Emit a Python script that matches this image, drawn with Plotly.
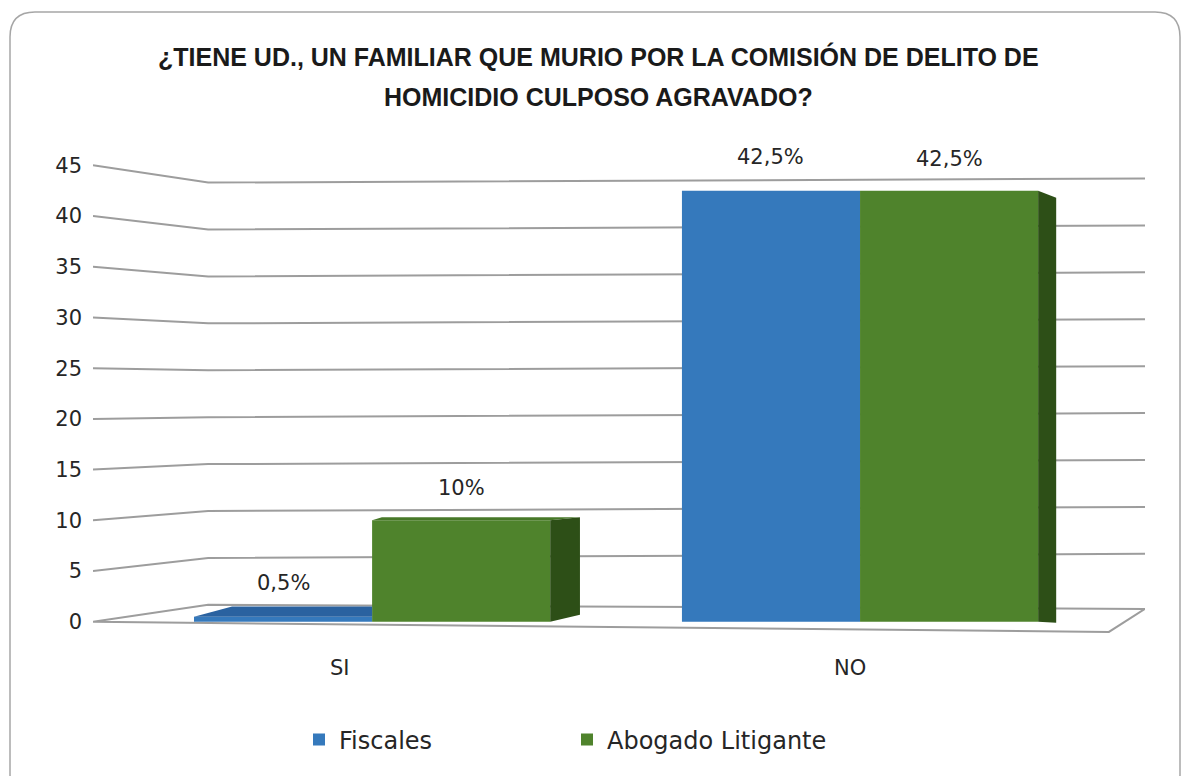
import plotly.graph_objects as go

# ---- data ----
categories = ["SI", "NO"]
fiscales = [0.5, 42.5]
abogado = [10, 42.5]
fiscales_labels = ["0,5%", "42,5%"]
abogado_labels = ["10%", "42,5%"]
series_names = ["Fiscales", "Abogado Litigante"]
y_ticks = [0, 5, 10, 15, 20, 25, 30, 35, 40, 45]
title_lines = ["¿TIENE UD., UN FAMILIAR QUE MURIO POR LA COMISIÓN DE DELITO DE",
               "HOMICIDIO CULPOSO AGRAVADO?"]

# ---- style ----
BLUE = "#3579BC"
DKBLUE = "#2A62A0"
GREEN = "#4F832C"
TOPGREEN = "#477828"
DKGREEN = "#2D4F17"
GRID = "#9d9d9d"
FONT = "DejaVu Sans, sans-serif"
TFONT = "Liberation Sans, Arial, sans-serif"
TXT = "#262626"

OFF = 8  # page offset of the figure inside the browser window
W, H = 1190, 776
# plot area in screen pixels
PL, PR, PT, PB = 93, 1145, 145, 637
L, R, T, B = PL - OFF, W - (PR - OFF), PT - OFF, H - (PB - OFF)
XR = [-0.572, 1.584]
YR = [-1.5, 47]
bar_w = 0.365

xpos = list(range(len(categories)))

def px2x(px):
    return (px - PL) / (PR - PL)

def py2y(py):
    return (PB - py) / (PB - PT)

fig = go.Figure()
fig.add_trace(go.Bar(x=xpos, y=fiscales, name=series_names[0], marker_color=BLUE,
                     marker_line_width=0, offset=-bar_w, width=bar_w))
fig.add_trace(go.Bar(x=xpos, y=abogado, name=series_names[1], marker_color=GREEN,
                     marker_line_width=0, offset=0, width=bar_w))

shapes = []
# perspective gridlines (back wall)
x_depth = -0.336
def back(v):
    return 1.67 + 0.925 * v
for v in y_ticks:
    if v == 0:
        continue
    shapes.append(dict(type="path", xref="x", yref="y", layer="below",
                       path=f"M {XR[0]},{v} L {x_depth},{back(v)} L {XR[1]},{back(v) + 0.4}",
                       line=dict(color=GRID, width=2)))
# floor
shapes.append(dict(type="path", xref="x", yref="y", layer="below",
                   path=f"M {XR[0]},0 L {x_depth},{back(0)} L {XR[1]},{back(0) - 0.4} L 1.51,-1.0 Z",
                   line=dict(color=GRID, width=2), fillcolor="white"))
# top faces (perspective) of the SI bars
top_dx = [0.078, 0.0]
top_dz = [1.0, 0.0]
for i in range(len(categories)):
    if top_dz[i] <= 0:
        continue
    v = fiscales[i]
    x0, x1 = xpos[i] - bar_w, xpos[i]
    shapes.append(dict(type="path", xref="x", yref="y", layer="above",
                       path=f"M {x0},{v} L {x0 + top_dx[i]},{v + top_dz[i]} L {x1},{v + top_dz[i]} L {x1},{v} Z",
                       line=dict(width=0), fillcolor=DKBLUE))
    v = abogado[i]
    x0, x1 = xpos[i], xpos[i] + bar_w
    shapes.append(dict(type="path", xref="x", yref="y", layer="above",
                       path=f"M {x0},{v} L {x0 + 0.02},{v + 0.3} L {x1 + 0.06},{v + 0.3} L {x1},{v} Z",
                       line=dict(width=0), fillcolor=TOPGREEN))
# side faces of the green bars
depth = [0.061, 0.037]
dy_top = [0.3, -0.7]
dy_bot = [0.7, -0.1]
for i, v in enumerate(abogado):
    x0 = xpos[i] + bar_w
    x1 = x0 + depth[i]
    shapes.append(dict(type="path", xref="x", yref="y", layer="above",
                       path=f"M {x0},0 L {x1},{dy_bot[i]} L {x1},{v + dy_top[i]} L {x0},{v} Z",
                       line=dict(width=0), fillcolor=DKGREEN))
# rounded border (screen pixels)
r = 25
x0p, x1p, y0p, y1p = 10, 1180, 12, 800
pts = (f"M {px2x(x0p + r)},{py2y(y0p)} L {px2x(x1p - r)},{py2y(y0p)} "
       f"Q {px2x(x1p)},{py2y(y0p)} {px2x(x1p)},{py2y(y0p + r)} "
       f"L {px2x(x1p)},{py2y(y1p - r)} Q {px2x(x1p)},{py2y(y1p)} {px2x(x1p - r)},{py2y(y1p)} "
       f"L {px2x(x0p + r)},{py2y(y1p)} Q {px2x(x0p)},{py2y(y1p)} {px2x(x0p)},{py2y(y1p - r)} "
       f"L {px2x(x0p)},{py2y(y0p + r)} Q {px2x(x0p)},{py2y(y0p)} {px2x(x0p + r)},{py2y(y0p)} Z")
shapes.append(dict(type="path", xref="paper", yref="paper", layer="below", path=pts,
                   line=dict(color="#a6a6a6", width=1.5)))

annotations = []
for i in range(len(categories)):
    annotations.append(dict(x=xpos[i] - bar_w / 2, y=fiscales[i], xref="x", yref="y",
                            text=fiscales_labels[i], showarrow=False, yanchor="bottom",
                            yshift=20, font=dict(size=21, color=TXT, family=FONT)))
    annotations.append(dict(x=xpos[i] + bar_w / 2, y=abogado[i], xref="x", yref="y",
                            text=abogado_labels[i], showarrow=False, yanchor="bottom",
                            yshift=18, font=dict(size=21, color=TXT, family=FONT)))
cat_shift = [-32, -10]
for i, c in enumerate(categories):
    annotations.append(dict(x=xpos[i], y=py2y(668), xref="x", yref="paper", text=c,
                            showarrow=False, xshift=cat_shift[i], yanchor="middle",
                            font=dict(size=21, color=TXT, family=FONT)))
title_y = [57, 97]
for line, ty in zip(title_lines, title_y):
    annotations.append(dict(x=px2x(598), y=py2y(ty), xref="paper", yref="paper", text=line,
                            showarrow=False, xanchor="center", yanchor="middle",
                            font=dict(size=25, color="#1a1a1a", family=TFONT, weight="bold")))

fig.update_layout(
    width=W, height=H,
    margin=dict(l=L, r=R, t=T, b=B),
    paper_bgcolor="white", plot_bgcolor="white",
    barmode="overlay",
    showlegend=True,
    legend=dict(orientation="h", x=px2x(299), xanchor="left", y=py2y(740), yanchor="middle",
                entrywidth=223, entrywidthmode="pixels",
                font=dict(size=24, color=TXT, family=FONT)),
    xaxis=dict(range=XR, showgrid=False, zeroline=False, showticklabels=False,
               showline=False, fixedrange=True),
    yaxis=dict(range=YR, tickvals=y_ticks, showgrid=False, zeroline=False, showline=False,
               ticks="", ticklabelstandoff=10, tickfont=dict(size=21, color=TXT, family=FONT)),
    shapes=shapes,
    annotations=annotations,
)

fig.write_html("out.html")
